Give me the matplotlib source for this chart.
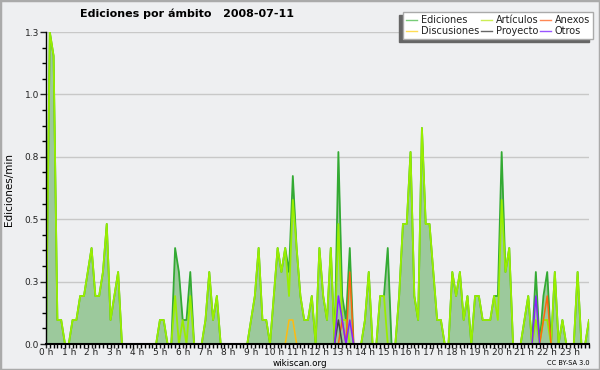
import numpy as np
import matplotlib.pyplot as plt
from matplotlib.patches import Rectangle

# 10-minute buckets, edits per minute (6 values per hour)
ediciones = [
    0, 1.3, 1.2, 0.1, 0.1, 0,        # 0 h
    0, 0.1, 0.1, 0.2, 0.2, 0.3,      # 1 h
    0.4, 0.2, 0.2, 0.3, 0.5, 0.1,    # 2 h
    0.2, 0.3, 0, 0, 0, 0,            # 3 h
    0, 0, 0, 0, 0, 0,                # 4 h
    0.1, 0.1, 0, 0, 0.4, 0.3,        # 5 h
    0.1, 0.1, 0.3, 0, 0, 0,          # 6 h
    0.1, 0.3, 0.1, 0.2, 0, 0,        # 7 h
    0, 0, 0, 0, 0, 0,                # 8 h
    0.1, 0.2, 0.4, 0.1, 0.1, 0,      # 9 h
    0.2, 0.4, 0.3, 0.4, 0.3, 0.7,    # 10 h
    0.4, 0.2, 0.1, 0.1, 0.2, 0,      # 11 h
    0.4, 0.2, 0.1, 0.4, 0, 0.8,      # 12 h
    0.2, 0.1, 0.4, 0, 0, 0,          # 13 h
    0.1, 0.3, 0, 0, 0.2, 0.2,        # 14 h
    0.4, 0, 0, 0.2, 0.5, 0.5,        # 15 h
    0.8, 0.2, 0.1, 0.9, 0.5, 0.5,    # 16 h
    0.3, 0.1, 0.1, 0, 0, 0.3,        # 17 h
    0.2, 0.3, 0.1, 0.2, 0, 0.2,      # 18 h
    0.2, 0.1, 0.1, 0.1, 0.2, 0.2,    # 19 h
    0.8, 0.3, 0.4, 0, 0, 0,          # 20 h
    0.1, 0.2, 0, 0.3, 0, 0.2,        # 21 h
    0.3, 0, 0.3, 0, 0.1, 0,          # 22 h
    0, 0, 0.3, 0, 0, 0.1,            # 23 h
]

# articles follow the total except in these buckets
articulos_diff = {34: 0.2, 35: 0, 36: 0.1, 37: 0, 38: 0.2, 64: 0.2, 65: 0.6,
                  77: 0.5, 78: 0.1, 79: 0.1, 80: 0, 90: 0, 119: 0.1, 120: 0.6,
                  129: 0.1, 130: 0, 131: 0.1, 132: 0.1}
discusiones_pts = {64: 0.1, 65: 0.1}
anexos_pts = {78: 0.1, 80: 0.3, 131: 0.1, 132: 0.2}
proyecto_pts = {77: 0.1}
otros_pts = {77: 0.2, 78: 0.1, 80: 0.1, 129: 0.2}

hour_labels = [f'{h} h' for h in range(24)]

n = len(ediciones)
x = np.arange(n)
total = np.array(ediciones)
articulos = total.copy()
for k, v in articulos_diff.items():
    articulos[k] = v

def sparse(pts):
    arr = np.zeros(n)
    for k, v in pts.items():
        arr[k] = v
    return arr

discusiones = sparse(discusiones_pts)
anexos = sparse(anexos_pts)
proyecto = sparse(proyecto_pts)
otros = sparse(otros_pts)

bg = '#eeeff1'
fig = plt.figure(figsize=(6, 3.7), dpi=100, facecolor=bg)
fig.patches.append(Rectangle((0, 0), 1, 1, transform=fig.transFigure, fill=False,
                             edgecolor='#aaaaaa', lw=2.5))
ax = fig.add_axes([46/600, 26/370, 543/600, 312/370], facecolor=bg)

ax.fill_between(x, total, color='#9cc99c', lw=0)
ax.plot(x, total, color='#33aa33', lw=1.3, label='Ediciones')
ax.plot(x, articulos, color='#99ee00', lw=1.3, label='Artículos')
ax.plot(x, anexos, color='#ff6611', lw=1.1, label='Anexos')
ax.plot(x, discusiones, color='#ffbb11', lw=1.1, label='Discusiones')
ax.plot(x, proyecto, color='#444444', lw=1.1, label='Proyecto')
ax.plot(x, otros, color='#8822ff', lw=1.1, label='Otros')

ax.set_xlim(0, n - 1)
ax.set_ylim(0, 1.3)
yt = np.arange(0, 1.31, 0.26)
ax.set_yticks(yt)
ax.set_yticklabels([f'{v:.1f}' for v in yt])
ax.set_yticks(np.arange(0, 1.31, 0.065), minor=True)
ax.set_xticks(np.arange(0, 144, 6))
ax.set_xticklabels(hour_labels)
ax.set_xticks(np.arange(0, 144, 1), minor=True)
ax.tick_params(which='major', direction='out', length=4, width=1, labelsize=6.5,
               pad=1, colors='#222222')
ax.tick_params(axis='x', which='major', length=3, pad=0)
ax.tick_params(which='minor', direction='out', length=3, width=1)
ax.yaxis.grid(True, color='#c8c8c8', lw=1)
ax.set_axisbelow(True)
for s in ['top', 'right']:
    ax.spines[s].set_visible(False)
ax.spines['left'].set_linewidth(1)
ax.spines['bottom'].set_linewidth(1.5)

fig.text(187/600, 1 - 14/370, 'Ediciones por ámbito   2008-07-11', ha='center',
         va='center', fontsize=8, fontweight='bold')
fig.text(9/600, 1 - 190/370, 'Ediciones/min', rotation=90, ha='center',
         va='center', fontsize=7.5)
fig.text(300/600, 1 - 363/370, 'wikiscan.org', ha='center', va='center', fontsize=6.3)
fig.text(590/600, 1 - 363/370, 'CC BY-SA 3.0', ha='right', va='center', fontsize=4.8)

order = ['Ediciones', 'Discusiones', 'Artículos', 'Proyecto', 'Anexos', 'Otros']
legend_colors = {'Ediciones': '#77cc77', 'Discusiones': '#ffdd55', 'Artículos': '#ccee55',
                 'Proyecto': '#666666', 'Anexos': '#ff8855', 'Otros': '#9955ff'}
handles = [plt.Line2D([], [], color=legend_colors[o], lw=1) for o in order]
leg = fig.legend(handles, order, loc='upper right', bbox_to_anchor=(593/600, 1 - 12/370),
                 ncol=3, fontsize=7, frameon=True, fancybox=False, borderaxespad=0,
                 handlelength=1.1, handletextpad=0.4, columnspacing=0.2,
                 labelspacing=0.12, borderpad=0.3)
leg.get_frame().set_edgecolor('#aaaaaa')
leg.get_frame().set_facecolor('white')
leg.get_frame().set_alpha(1)
leg.set_zorder(5)
for t in leg.get_texts():
    t.set_color('#222222')

fig.canvas.draw()
bb = leg.get_window_extent().transformed(fig.transFigure.inverted())
fig.patches.append(Rectangle((bb.x0 - 4/600, bb.y0 - 3/370), bb.width, bb.height,
                             transform=fig.transFigure, color='#666666', zorder=4))

fig.savefig('out.png', dpi=100, facecolor=bg)
